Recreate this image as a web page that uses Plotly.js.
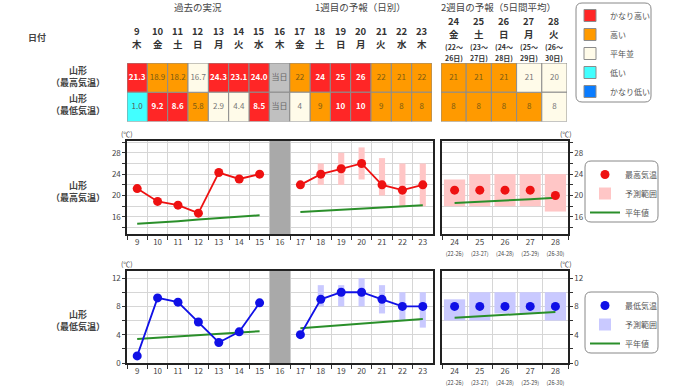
<!DOCTYPE html>
<html><head><meta charset="utf-8">
<script src="https://cdn.plot.ly/plotly-3.0.1.min.js"></script>
<style>html,body{margin:0;padding:0;background:#fff}#chart{width:680px;height:390px}</style>
</head><body><div id="chart"></div>
<script>
// ---------- data ----------
const days1 = ['9','10','11','12','13','14','15','16','17','18','19','20','21','22','23'];
const weekdays1 = ['木','金','土','日','月','火','水','木','金','土','日','月','火','水','木'];
const days2 = ['24','25','26','27','28'];
const weekdays2 = ['金','土','日','月','火'];
const periodStart2 = ['22','23','24','25','26'];
const periodEnd2 = ['26','27','28','29','30'];
const todayDay = '16';

// table (observed + daily forecast)
const maxTableText1 = ['21.3','18.9','18.2','16.7','24.3','23.1','24.0','当日','22','24','25','26','22','21','22'];
const maxClass1 = ['vh','h','h','n','vh','vh','vh','today','h','vh','vh','vh','h','h','h'];
const minTableText1 = ['1.0','9.2','8.6','5.8','2.9','4.4','8.5','当日','4','9','10','10','9','8','8'];
const minClass1 = ['l','vh','vh','h','n','n','vh','today','n','h','vh','vh','h','h','h'];
// table (week 2, 5-day mean)
const maxTableText2 = ['21','21','21','21','20'];
const maxClass2 = ['h','h','h','n','n'];
const minTableText2 = ['8','8','8','8','8'];
const minClass2 = ['h','h','h','h','n'];

// max temperature chart
const maxDaily = [21.3,18.9,18.2,16.7,24.3,23.1,24.0,null,22,24,25,26,22,21,22];
const maxRangeLow1 = [null,null,null,null,null,null,null,null,null,22,22,23,20,18,18];
const maxRangeHigh1 = [null,null,null,null,null,null,null,null,null,26,28,29,27,26,26];
const maxNormal1 = [14.7,14.9,15.2,15.5,15.8,16.0,16.3,null,16.9,17.1,17.3,17.6,17.8,18.0,18.2];
const maxWeek2 = [21,21,21,21,20];
const maxRangeLow2 = [18,18,18,18,17];
const maxRangeHigh2 = [23,24,24,24,24];
const maxNormal2 = [18.6,18.8,19.1,19.3,19.6];

// min temperature chart
const minDaily = [1.0,9.2,8.6,5.8,2.9,4.4,8.5,null,4,9,10,10,9,8,8];
const minRangeLow1 = [null,null,null,null,null,null,null,null,null,8,8,8,7,6,5];
const minRangeHigh1 = [null,null,null,null,null,null,null,null,null,11,11,12,11,10,10];
const minNormal1 = [3.4,3.6,3.7,3.9,4.1,4.3,4.5,null,4.9,5.1,5.3,5.5,5.8,6.0,6.2];
const minWeek2 = [8,8,8,8,8];
const minRangeLow2 = [6,6,7,7,6];
const minRangeHigh2 = [9,10,10,10,10];
const minNormal2 = [6.4,6.6,6.8,7.0,7.2];

const classOrder = ['vh','h','n','l','vl'];
const classNames = {vh:'かなり高い', h:'高い', n:'平年並', l:'低い', vl:'かなり低い'};

// ---------- styles ----------
const FONT = 'Noto Sans CJK JP, sans-serif';
const classColors = {vh:'#ff2626', h:'#ff9a00', n:'#fffbe9', l:'#42ffff', vl:'#0a7cff', today:'#c0c0c0'};
const classText = {vh:'#ffffff', h:'#7a5a12', n:'#777777', l:'#555555', vl:'#ffffff', today:'#666666'};
const W = 680, H = 390;
const hd = (a,b) => [a/W, b/W];
const vd = (top,bottom) => [1-bottom/H, 1-top/H];
const px = v => v/W, py = v => 1 - v/H;

const traces = [];

// ---------- table ----------
function tableTraces(days, maxText, maxCls, minText, minCls, xa, ya, withLegend) {
  classOrder.concat(['today']).forEach(c => {
    const xs = [], bases = [];
    days.forEach((d,i) => {
      if (maxCls[i] === c) { xs.push(d); bases.push(1); }
      if (minCls[i] === c) { xs.push(d); bases.push(0); }
    });
    const isLegend = withLegend && c !== 'today';
    if (!xs.length && !isLegend) return;
    traces.push({
      type:'bar', xaxis:xa, yaxis:ya,
      x: xs.length ? xs : [days[0]], y: xs.length ? xs.map(()=>1) : [null],
      base: xs.length ? bases : [0], width: 1,
      name: classNames[c] || '', legend:'legend', showlegend:isLegend,
      legendrank: classOrder.indexOf(c)+1,
      marker:{color:classColors[c], line:{color:'#8c8c8c', width:1}},
      hoverinfo:'skip'
    });
  });
  const tx = [], ty = [], tt = [], tc = [];
  days.forEach((d,i) => {
    [[maxText, maxCls, 1.5],[minText, minCls, 0.5]].forEach(([t,c,y]) => {
      tx.push(d); ty.push(y);
      tt.push(c[i]==='vh' ? '<b>'+t[i]+'</b>' : t[i]);
      tc.push(classText[c[i]]);
    });
  });
  traces.push({type:'scatter', mode:'text', xaxis:xa, yaxis:ya, x:tx, y:ty, text:tt,
    textfont:{size:8, color:tc, family:FONT}, showlegend:false, hoverinfo:'skip'});
}
tableTraces(days1, maxTableText1, maxClass1, minTableText1, minClass1, 'x', 'y', true);
tableTraces(days2, maxTableText2, maxClass2, minTableText2, minClass2, 'x2', 'y2', false);

// ---------- charts ----------
function chartTraces(cfg) {
  traces.push({type:'bar', xaxis:cfg.xa1, yaxis:cfg.ya1, x:days1,
    base:cfg.lo1, y:cfg.lo1.map((v,i)=> v==null?null:cfg.hi1[i]-v), width:0.3,
    marker:{color:cfg.rangeColor}, showlegend:false, hoverinfo:'skip'});
  traces.push({type:'bar', xaxis:cfg.xa2, yaxis:cfg.ya2, x:days2,
    base:cfg.lo2, y:cfg.lo2.map((v,i)=>cfg.hi2[i]-v), width:0.84,
    marker:{color:cfg.rangeColor}, name:'予測範囲', legend:cfg.legend, showlegend:true, legendrank:2, hoverinfo:'skip'});
  traces.push({type:'scatter', mode:'lines', xaxis:cfg.xa1, yaxis:cfg.ya1, x:days1, y:cfg.normal1,
    connectgaps:false, line:{color:'#2a8f2a', width:2}, showlegend:false, hoverinfo:'skip'});
  traces.push({type:'scatter', mode:'lines', xaxis:cfg.xa2, yaxis:cfg.ya2, x:days2, y:cfg.normal2,
    line:{color:'#2a8f2a', width:2}, name:'平年値', legend:cfg.legend, showlegend:true, legendrank:3, hoverinfo:'skip'});
  traces.push({type:'scatter', mode:'lines+markers', xaxis:cfg.xa1, yaxis:cfg.ya1, x:days1, y:cfg.daily,
    connectgaps:false, line:{color:cfg.color, width:1.8}, marker:{color:cfg.color, size:9},
    showlegend:false, hoverinfo:'skip'});
  traces.push({type:'scatter', mode:'markers', xaxis:cfg.xa2, yaxis:cfg.ya2, x:days2, y:cfg.week2,
    marker:{color:cfg.color, size:9}, name:cfg.name, legend:cfg.legend, showlegend:true, legendrank:1, hoverinfo:'skip'});
}
chartTraces({xa1:'x3', ya1:'y3', xa2:'x4', ya2:'y4', daily:maxDaily, lo1:maxRangeLow1, hi1:maxRangeHigh1,
  normal1:maxNormal1, week2:maxWeek2, lo2:maxRangeLow2, hi2:maxRangeHigh2, normal2:maxNormal2,
  color:'#ee1111', rangeColor:'#ffc6c6', name:'最高気温', legend:'legend2'});
chartTraces({xa1:'x5', ya1:'y5', xa2:'x6', ya2:'y6', daily:minDaily, lo1:minRangeLow1, hi1:minRangeHigh1,
  normal1:minNormal1, week2:minWeek2, lo2:minRangeLow2, hi2:minRangeHigh2, normal2:minNormal2,
  color:'#1010e6', rangeColor:'#c9c9ff', name:'最低気温', legend:'legend3'});

// ---------- axes ----------
const tickFont = {size:8, color:'#444', family:FONT};
const frame = {showline:true, mirror:true, linecolor:'#222', linewidth:1.6, zeroline:false};
const grid = {showgrid:true, gridcolor:'#d6d6d6', gridwidth:1};
function xChart(domain, anchor, days, ticktext) {
  return Object.assign({domain, anchor, type:'category', categoryarray:days, categoryorder:'array',
    range:[-0.5, days.length-0.5], tickson:'boundaries', ticks:'outside', ticklen:4, tickcolor:'#333',
    tickvals:days, ticktext:ticktext, tickangle:0, tickfont:tickFont, fixedrange:true}, frame, grid);
}
function yChart(domain, anchor, range, side, showLabels) {
  return Object.assign({domain, anchor, range, side, tick0:0, dtick:4, ticks:'outside', ticklen:3,
    tickcolor:'#333', showticklabels:showLabels, tickfont:tickFont, fixedrange:true,
    minor:{dtick:2, tick0:0, showgrid:true, gridcolor:'#d6d6d6', ticks:'outside', ticklen:3, tickcolor:'#333'}},
    frame, grid);
}
const week2ChartTicks = days2.map((d,i)=> d+'<br><span style="font-size:5.5px">('+periodStart2[i]+'-'+periodEnd2[i]+')</span>');

const P1 = hd(127,433), P2 = hd(442,568), T1 = hd(127,432), T2 = hd(441,567);
const TY = vd(63,121.5), C1 = vd(141,234), C2 = vd(271,363);
const tableX = (domain, anchor, days) => ({domain, anchor, type:'category',
  categoryarray:days, categoryorder:'array', range:[-0.5, days.length-0.5], side:'top',
  showticklabels:false, ticks:'', showline:false, showgrid:false, zeroline:false, fixedrange:true});
const tableY = (anchor) => ({domain:TY, anchor, range:[0,2], visible:false, fixedrange:true});

const todayIdx = days1.indexOf(todayDay);
const shapes = [
  {type:'rect', xref:'x3', yref:'y3 domain', x0:todayIdx-0.5, x1:todayIdx+0.5, y0:0, y1:1, fillcolor:'#a9a9a9', line:{width:0}, layer:'above'},
  {type:'rect', xref:'x5', yref:'y5 domain', x0:todayIdx-0.5, x1:todayIdx+0.5, y0:0, y1:1, fillcolor:'#a9a9a9', line:{width:0}, layer:'above'}
];
function roundRect(l,t,r,b,rad){
  const L=px(l),R=px(r),T=py(t),B=py(b),rx=rad/W,ry=rad/H;
  return {type:'path', xref:'paper', yref:'paper', layer:'above', line:{color:'#888', width:1}, fillcolor:'rgba(0,0,0,0)',
    path:`M${L+rx},${T} L${R-rx},${T} Q${R},${T} ${R},${T-ry} L${R},${B+ry} Q${R},${B} ${R-rx},${B} L${L+rx},${B} Q${L},${B} ${L},${B+ry} L${L},${T-ry} Q${L},${T} ${L+rx},${T} Z`};
}
shapes.push(roundRect(576,3,651,102,6), roundRect(585,161,658,222,6), roundRect(585,292,658,353,6));

const ann = (x,y,text,opts={}) => Object.assign({xref:'paper', yref:'paper', x:px(x), y:py(y), text,
  showarrow:false, font:Object.assign({size:9, color:'#444', family:FONT}, opts.font||{}),
  xanchor:opts.xanchor||'center', yanchor:'middle'}, opts.extra||{});
const colText = (xref, x, y, text, size, color) => ({xref, yref:'paper', x, y:py(y), text, showarrow:false,
  xanchor:'center', yanchor:'middle', borderpad:0, font:{size, color, family:FONT}});
const annotations = [
  colText('x', 3, 7, '過去の実況', 9.5, '#444'),
  colText('x', 11, 7, '1週目の予報（日別）', 9.5, '#444'),
  colText('x2', 1.8, 7, '2週目の予報（5日間平均）', 9.5, '#444'),
  ann(37,38,'<b>日付</b>'),
  ann(78,77,'<b>山形<br>（最高気温）</b>'),
  ann(78,105,'<b>山形<br>（最低気温）</b>'),
  ann(78,191,'<b>山形<br>（最高気温）</b>'),
  ann(78,320,'<b>山形<br>（最低気温）</b>'),
  ann(127,134,'(℃)',{font:{size:7}}),
  ann(566,134,'(℃)',{font:{size:7}}),
  ann(127,264,'(℃)',{font:{size:7}}),
  ann(566,264,'(℃)',{font:{size:7}})
];
days1.forEach((d,i) => {
  annotations.push(colText('x', i, 31, '<b>'+d+'</b>', 9.5, '#333'));
  annotations.push(colText('x', i, 44, '<b>'+weekdays1[i]+'</b>', 9.5, '#333'));
});
days2.forEach((d,i) => {
  annotations.push(colText('x2', i, 21, '<b>'+d+'</b>', 9.5, '#333'));
  annotations.push(colText('x2', i, 34, '<b>'+weekdays2[i]+'</b>', 9.5, '#333'));
  annotations.push(colText('x2', i, 47, '<b>('+periodStart2[i]+'～</b>', 7, '#333'));
  annotations.push(colText('x2', i, 57.5, '<b>'+periodEnd2[i]+'日)</b>', 7, '#333'));
});

const legendBase = {xanchor:'left', yanchor:'top', bgcolor:'rgba(0,0,0,0)', borderwidth:0,
  font:{size:8, color:'#555', family:FONT}, traceorder:'normal'};

const layout = {
  width:W, height:H, margin:{l:0,r:0,t:0,b:0}, paper_bgcolor:'#fff', plot_bgcolor:'#fff',
  barmode:'overlay', hovermode:false, showlegend:true, font:{family:FONT},
  xaxis: tableX(T1,'y',days1),
  yaxis: tableY('x'),
  xaxis2: tableX(T2,'y2',days2),
  yaxis2: tableY('x2'),
  xaxis3: xChart(P1,'y3',days1,days1),
  yaxis3: yChart(C1,'x3',[12.8,30.2],'left',true),
  xaxis4: xChart(P2,'y4',days2,week2ChartTicks),
  yaxis4: yChart(C1,'x4',[12.8,30.2],'right',true),
  xaxis5: xChart(P1,'y5',days1,days1),
  yaxis5: yChart(C2,'x5',[0,13],'left',true),
  xaxis6: xChart(P2,'y6',days2,week2ChartTicks),
  yaxis6: yChart(C2,'x6',[0,13],'right',true),
  legend: Object.assign({x:px(570), y:py(1)}, legendBase),
  legend2: Object.assign({x:px(585), y:py(160)}, legendBase),
  legend3: Object.assign({x:px(585), y:py(291)}, legendBase),
  shapes, annotations
};
Plotly.newPlot('chart', traces, layout, {staticPlot:true, displayModeBar:false});
</script></body></html>
